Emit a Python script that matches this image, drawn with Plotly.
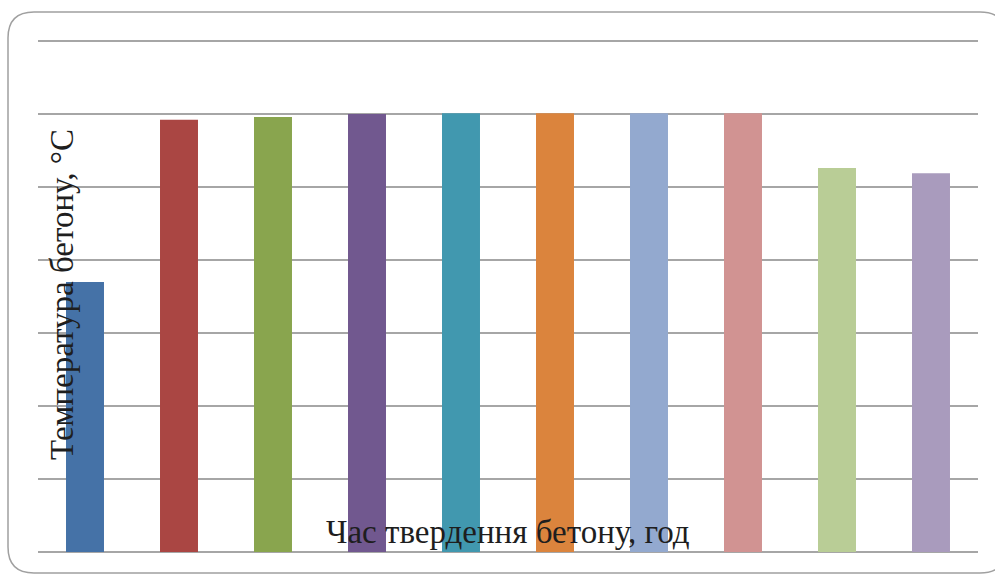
import plotly.graph_objects as go

categories = ["1", "2", "3", "4", "5", "6", "7", "8", "9", "10"]
temperatures = [37.0, 59.2, 59.6, 60.0, 60.1, 60.1, 60.1, 60.1, 52.6, 51.9]
bar_colors = ["#4572A7", "#AA4643", "#89A54E", "#71588F", "#4198AF",
              "#DB843D", "#93A9CF", "#D19392", "#B9CD96", "#A99BBD"]
x_title = "Час твердення бетону, год"
y_title = "Температура бетону, °С"

fig = go.Figure(go.Bar(x=categories, y=temperatures, marker_color=bar_colors,
                       marker_line_width=0, showlegend=False))

L, R, T, B = 38, 17, 40, 23
W, H = 995, 575
pw, ph = W - L - R, H - T - B
ymax = 70.14

def ux(px):
    return (px - L) / pw

def vy(py):
    return (H - B - py) / ph

x0, x1, y0, y1, r = 8, 1006, 12, 573, 26
path = (f"M {ux(x0)},{vy(y0 + r)} "
        f"Q {ux(x0)},{vy(y0)} {ux(x0 + r)},{vy(y0)} "
        f"L {ux(x1 - r)},{vy(y0)} "
        f"Q {ux(x1)},{vy(y0)} {ux(x1)},{vy(y0 + r)} "
        f"L {ux(x1)},{vy(y1 - r)} "
        f"Q {ux(x1)},{vy(y1)} {ux(x1 - r)},{vy(y1)} "
        f"L {ux(x0 + r)},{vy(y1)} "
        f"Q {ux(x0)},{vy(y1)} {ux(x0)},{vy(y1 - r)} Z")

fig.update_layout(
    width=W, height=H,
    margin=dict(l=L, r=R, t=T, b=B, pad=0),
    paper_bgcolor="white", plot_bgcolor="white",
    bargap=0.596,
    xaxis=dict(showticklabels=False, showgrid=False, zeroline=False,
               showline=False, ticks=""),
    yaxis=dict(range=[0, ymax], tick0=0, dtick=10, showticklabels=False, ticks="",
               showgrid=True, gridcolor="#a6a6a6", gridwidth=2,
               zeroline=True, zerolinecolor="#a6a6a6", zerolinewidth=2,
               showline=False),
    shapes=[dict(type="path", path=path, xref="paper", yref="paper",
                 line=dict(color="#a0a0a0", width=1.5), layer="above")],
    annotations=[
        dict(text=x_title, xref="paper", yref="paper", x=ux(508), y=vy(532),
             showarrow=False, xanchor="center", yanchor="middle",
             font=dict(family="Liberation Serif", size=33, color="#1e1e1e")),
        dict(text=y_title, xref="paper", yref="paper", x=ux(62), y=vy(295),
             showarrow=False, xanchor="center", yanchor="middle", textangle=-90,
             font=dict(family="Liberation Serif", size=33, color="#1e1e1e")),
    ],
)

fig.write_html("out.html")
